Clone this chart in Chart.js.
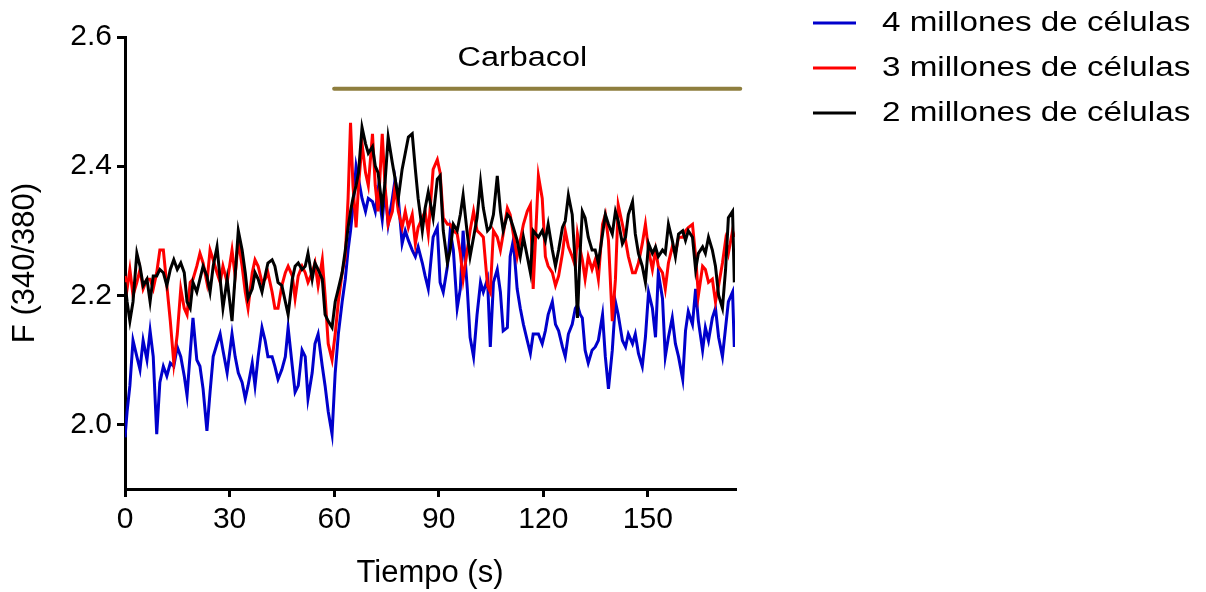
<!DOCTYPE html>
<html>
<head>
<meta charset="utf-8">
<script src="https://cdn.jsdelivr.net/npm/chart.js@4/dist/chart.umd.min.js"></script>
<style>
	body { margin: 0; background: #fff; }
	canvas { display: block; }
</style>
</head>
<body>
<canvas id="grafico" width="1206" height="592"></canvas>
<script>
// Tiempo (s) de cada muestra
const tiempo = [
	0, 0.6, 1.4, 2.3, 3.4, 4.3, 5.2, 6.3, 7.2, 8.1, 9.1, 10, 11, 12, 13, 14, 15, 16, 17, 17.8, 18.7, 19.5, 20.6, 21.5, 22.4, 23.5, 24.4, 25.3, 26.4, 27.3, 28.1, 29.3,
	30.7, 31.6, 32.5, 33.6, 34.5, 35.3, 36.5, 37.3, 38.2, 39.3, 40.2, 41, 42.2, 43, 43.9, 45, 46, 46.8, 48, 48.8, 49.7, 50.8, 51.7, 52.5, 53.7, 54.5, 55.4, 56.6, 57.4, 58.3, 59.4,
	60.3, 61.2, 62.3, 63.2, 64, 64.7, 65.4, 66.3, 67, 68, 69, 69.8, 71, 71.8, 72.6, 73.8, 74.6, 75.5, 76.7, 77.5, 78.4, 79.5, 80.4, 81.3, 82.4, 83.3, 84.1, 85.3, 86.1, 87,
	88.4, 89.6, 90.4, 91.3, 92.5, 93.3, 94.2, 95.3, 96.2, 97, 98.2, 99, 100, 101, 102, 102.8, 104, 104.8, 105.7, 106.8, 107.7, 108.5, 109.7, 110.5, 111.4, 112.5, 113.4, 114.3, 115.4, 116.3, 117.1,
	118.6, 119.7, 120.6, 121.4, 122.6, 123.5, 124.4, 125.5, 126.3, 127.2, 128.3, 129.2, 129.8, 130.6, 131.2, 132, 132.9, 134, 134.9, 135.8, 137, 137.8, 138.7, 139.8, 140.7, 141.5, 142.7, 143.6, 144.4, 145.6, 146.4,
	147.3, 148.4, 149.3, 150.2, 151.3, 152.2, 153, 154.2, 155, 155.9, 157, 157.9, 158.8, 160, 160.8, 161.6, 162.8, 163.7, 164.5, 165.7, 166.5, 167.4, 168.5, 169.4, 170.3, 171.4, 172.3, 173.1, 174.3, 174.8
];

// 4 millones de células
const cuatroMillones = [
	1.98, 2.02, 2.06, 2.13, 2.105, 2.085, 2.13, 2.10, 2.145, 2.105, 1.985, 2.065, 2.09, 2.075, 2.095, 2.09, 2.12, 2.105, 2.075, 2.045, 2.11, 2.165, 2.10, 2.09, 2.055, 1.99, 2.05, 2.105, 2.125, 2.14, 2.115, 2.08,
	2.14, 2.105, 2.08, 2.065, 2.04, 2.06, 2.095, 2.06, 2.105, 2.15, 2.13, 2.105, 2.105, 2.09, 2.07, 2.085, 2.105, 2.15, 2.09, 2.05, 2.06, 2.115, 2.105, 2.04, 2.08, 2.125, 2.14, 2.09, 2.06, 2.02, 1.985,
	2.08, 2.14, 2.19, 2.225, 2.27, 2.30, 2.337, 2.40, 2.38, 2.35, 2.33, 2.35, 2.345, 2.33, 2.363, 2.317, 2.363, 2.31, 2.35, 2.38, 2.35, 2.28, 2.30, 2.285, 2.27, 2.26, 2.275, 2.25, 2.23, 2.21,
	2.29, 2.305, 2.22, 2.205, 2.245, 2.30, 2.27, 2.18, 2.21, 2.30, 2.21, 2.135, 2.105, 2.17, 2.22, 2.205, 2.225, 2.12, 2.22, 2.24, 2.205, 2.145, 2.15, 2.26, 2.285, 2.21, 2.18, 2.155, 2.13, 2.11, 2.14,
	2.14, 2.125, 2.145, 2.17, 2.19, 2.155, 2.145, 2.12, 2.105, 2.14, 2.155, 2.18, 2.185, 2.17, 2.165, 2.115, 2.095, 2.115, 2.12, 2.13, 2.17, 2.105, 2.055, 2.115, 2.19, 2.17, 2.13, 2.12, 2.14, 2.125, 2.14,
	2.11, 2.09, 2.135, 2.205, 2.18, 2.135, 2.235, 2.195, 2.105, 2.135, 2.165, 2.125, 2.105, 2.07, 2.145, 2.175, 2.155, 2.21, 2.16, 2.115, 2.15, 2.13, 2.165, 2.18, 2.135, 2.105, 2.15, 2.19, 2.205, 2.12
];

// 3 millones de células
const tresMillones = [
	2.23, 2.21, 2.24, 2.20, 2.22, 2.24, 2.21, 2.225, 2.225, 2.21, 2.235, 2.27, 2.27, 2.215, 2.16, 2.095, 2.14, 2.21, 2.18, 2.17, 2.22, 2.225, 2.245, 2.265, 2.25, 2.22, 2.27, 2.255, 2.235, 2.22, 2.245, 2.22,
	2.27, 2.23, 2.285, 2.245, 2.205, 2.18, 2.235, 2.255, 2.245, 2.22, 2.225, 2.235, 2.205, 2.18, 2.18, 2.215, 2.235, 2.245, 2.23, 2.195, 2.23, 2.245, 2.235, 2.22, 2.235, 2.25, 2.215, 2.255, 2.2, 2.125, 2.10,
	2.14, 2.19, 2.235, 2.26, 2.35, 2.467, 2.37, 2.305, 2.37, 2.435, 2.39, 2.37, 2.45, 2.37, 2.33, 2.45, 2.37, 2.31, 2.33, 2.37, 2.33, 2.305, 2.33, 2.305, 2.325, 2.28, 2.305, 2.32, 2.33, 2.295,
	2.395, 2.41, 2.39, 2.32, 2.31, 2.31, 2.30, 2.295, 2.265, 2.225, 2.27, 2.30, 2.33, 2.30, 2.295, 2.29, 2.215, 2.205, 2.30, 2.29, 2.27, 2.295, 2.335, 2.325, 2.295, 2.26, 2.285, 2.31, 2.33, 2.34, 2.21,
	2.385, 2.35, 2.26, 2.245, 2.235, 2.215, 2.23, 2.265, 2.30, 2.275, 2.26, 2.245, 2.295, 2.27, 2.255, 2.225, 2.26, 2.24, 2.255, 2.225, 2.31, 2.325, 2.285, 2.16, 2.225, 2.34, 2.31, 2.285, 2.26, 2.235, 2.235,
	2.25, 2.28, 2.31, 2.27, 2.24, 2.27, 2.245, 2.235, 2.21, 2.25, 2.275, 2.265, 2.29, 2.29, 2.30, 2.305, 2.31, 2.26, 2.20, 2.245, 2.24, 2.22, 2.225, 2.19, 2.215, 2.25, 2.285, 2.265, 2.30, 2.29
];

// 2 millones de células
const dosMillones = [
	2.22, 2.19, 2.16, 2.19, 2.265, 2.245, 2.215, 2.225, 2.19, 2.23, 2.23, 2.24, 2.235, 2.215, 2.24, 2.255, 2.24, 2.25, 2.235, 2.19, 2.18, 2.22, 2.205, 2.225, 2.245, 2.23, 2.205, 2.245, 2.275, 2.225, 2.18, 2.225,
	2.16, 2.23, 2.30, 2.27, 2.235, 2.195, 2.21, 2.235, 2.225, 2.205, 2.23, 2.25, 2.255, 2.245, 2.22, 2.215, 2.19, 2.17, 2.225, 2.245, 2.25, 2.24, 2.245, 2.265, 2.225, 2.25, 2.24, 2.225, 2.17, 2.16, 2.15,
	2.19, 2.21, 2.235, 2.27, 2.305, 2.33, 2.35, 2.37, 2.39, 2.46, 2.435, 2.42, 2.43, 2.40, 2.39, 2.335, 2.375, 2.445, 2.405, 2.38, 2.35, 2.395, 2.42, 2.445, 2.45, 2.395, 2.35, 2.30, 2.335, 2.36,
	2.32, 2.38, 2.385, 2.30, 2.25, 2.27, 2.31, 2.30, 2.325, 2.355, 2.295, 2.26, 2.29, 2.32, 2.375, 2.335, 2.30, 2.305, 2.325, 2.385, 2.33, 2.30, 2.325, 2.32, 2.305, 2.285, 2.26, 2.29, 2.26, 2.235, 2.30,
	2.29, 2.30, 2.285, 2.31, 2.27, 2.245, 2.27, 2.305, 2.315, 2.355, 2.325, 2.245, 2.165, 2.27, 2.33, 2.32, 2.29, 2.27, 2.27, 2.25, 2.295, 2.325, 2.31, 2.295, 2.33, 2.315, 2.28, 2.29, 2.325, 2.345, 2.295,
	2.265, 2.245, 2.22, 2.28, 2.265, 2.275, 2.26, 2.27, 2.265, 2.31, 2.285, 2.26, 2.295, 2.30, 2.285, 2.30, 2.29, 2.24, 2.265, 2.275, 2.265, 2.29, 2.27, 2.245, 2.20, 2.18, 2.24, 2.32, 2.33, 2.22
];

const series = ["4 millones de células", "3 millones de células", "2 millones de células"];
const colores = ["#0000CC", "#FF0000", "#000000"];

// Barra de carbacol (inicio, fin en s; nivel en F)
const carbacolTiempo = [60, 176.5];
const carbacolNivel = 2.52;
const carbacolTexto = "Carbacol";
const carbacolTextoPos = [114, 2.566];

const ticksX = [0, 30, 60, 90, 120, 150];
const ticksY = [2.0, 2.2, 2.4, 2.6];

const fuente = "'Liberation Sans', Arial, sans-serif";
Chart.defaults.font.family = fuente;
Chart.defaults.color = "#000";

const puntos = (valores) => tiempo.map((t, i) => ({ x: t, y: valores[i] }));

// Leyenda y texto de carbacol, algo estirados como en el original
const textosPlugin = {
	id: "textos",
	afterDraw(chart) {
		const { ctx, scales } = chart;
		ctx.save();
		ctx.font = "27px " + fuente;
		ctx.fillStyle = "#000";
		ctx.textBaseline = "middle";

		// Carbacol
		const cx = scales.x.getPixelForValue(carbacolTextoPos[0]);
		const cy = scales.y.getPixelForValue(carbacolTextoPos[1]);
		ctx.save();
		ctx.translate(cx, cy);
		ctx.scale(1.2, 1);
		ctx.textAlign = "center";
		ctx.fillText(carbacolTexto, 0, 0);
		ctx.restore();

		// Leyenda
		series.forEach((nombre, i) => {
			const y = 23 + i * 45;
			ctx.strokeStyle = colores[i];
			ctx.lineWidth = 3;
			ctx.beginPath();
			ctx.moveTo(813, y);
			ctx.lineTo(856, y);
			ctx.stroke();

			ctx.save();
			ctx.translate(882, y + 1);
			ctx.scale(1.23, 1);
			ctx.textAlign = "left";
			ctx.fillText(nombre, 0, 0);
			ctx.restore();
		});
		ctx.restore();
	},
};

const lineaSerie = (i, valores, orden) => ({
	label: series[i],
	data: puntos(valores),
	borderColor: colores[i],
	borderWidth: 3,
	pointRadius: 0,
	tension: 0,
	fill: false,
	order: orden,
});

new Chart(document.getElementById("grafico"), {
	type: "line",
	data: {
		datasets: [
			lineaSerie(0, cuatroMillones, 3),
			lineaSerie(1, tresMillones, 2),
			lineaSerie(2, dosMillones, 1),
			{
				label: carbacolTexto,
				data: carbacolTiempo.map((t) => ({ x: t, y: carbacolNivel })),
				borderColor: "#8E7E3E",
				borderWidth: 4,
				borderCapStyle: "round",
				pointRadius: 0,
				clip: false,
				order: 0,
			},
		],
	},
	options: {
		responsive: false,
		animation: false,
		devicePixelRatio: 1,
		layout: { padding: { left: 0, top: 37, right: 471, bottom: 0 } },
		plugins: {
			legend: { display: false },
			tooltip: { enabled: false },
		},
		scales: {
			x: {
				type: "linear",
				min: 0,
				max: 175,
				afterBuildTicks: (axis) => {
					axis.ticks = ticksX.map((v) => ({ value: v }));
				},
				afterFit: (axis) => {
					axis.height = 103;
				},
				ticks: {
					font: { size: 30 },
					padding: 5,
					maxRotation: 0,
					autoSkip: false,
					callback: (v) => String(v),
				},
				grid: {
					drawOnChartArea: false,
					drawTicks: true,
					tickLength: 8,
					color: "#000",
					lineWidth: 3,
				},
				border: { display: true, color: "#000", width: 3 },
				title: {
					display: true,
					text: "Tiempo (s)",
					font: { size: 31 },
					padding: { top: 0, bottom: 0 },
				},
			},
			y: {
				min: 1.9,
				max: 2.6,
				afterBuildTicks: (axis) => {
					axis.ticks = ticksY.map((v) => ({ value: v }));
				},
				afterFit: (axis) => {
					axis.width = 125;
				},
				ticks: {
					font: { size: 30 },
					padding: 5,
					autoSkip: false,
					callback: (v) => v.toFixed(1),
				},
				grid: {
					drawOnChartArea: false,
					drawTicks: true,
					tickLength: 8,
					color: "#000",
					lineWidth: 3,
				},
				border: { display: true, color: "#000", width: 3 },
				title: {
					display: true,
					text: "F (340/380)",
					font: { size: 31 },
					padding: { top: 7, bottom: 0 },
				},
			},
		},
	},
	plugins: [textosPlugin],
});
</script>
</body>
</html>
